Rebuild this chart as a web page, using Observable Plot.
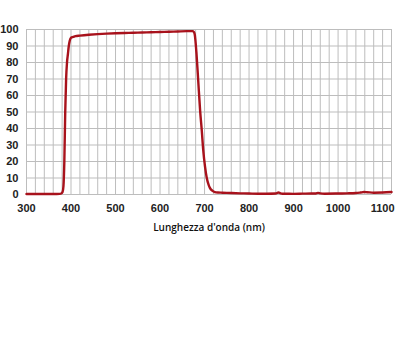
<!DOCTYPE html>
<html>
<head>
<meta charset="utf-8">
<script src="https://cdn.jsdelivr.net/npm/d3@7"></script>
<script src="https://cdn.jsdelivr.net/npm/@observablehq/plot@0.6"></script>
<style>
  html, body { margin: 0; padding: 0; background: #fff; }
  #chart svg { display: block; }
  g[aria-label="x-axis label"] text { font-family: "Open Sans", sans-serif; font-weight: 600; font-size: 10px; fill: #111; }
</style>
</head>
<body>
<div id="chart"></div>
<script>
const wavelength = [300, 320, 340, 360, 375, 378, 381, 383, 385, 387, 389, 391, 393, 395, 397, 400, 405, 410, 420, 440, 460, 480, 500, 520, 540, 560, 580, 600, 620, 640, 660, 668, 673, 676, 678, 682, 686, 690, 694, 697, 701, 705, 709, 712, 718, 723, 730, 740, 760, 780, 800, 820, 840, 860, 866, 870, 875, 880, 900, 920, 940, 950, 955, 960, 970, 1000, 1020, 1040, 1050, 1058, 1065, 1080, 1100, 1120];
const transmission = [0.3, 0.3, 0.3, 0.3, 0.4, 0.6, 1.5, 5, 20, 50, 70, 80, 85, 90, 93, 95, 95.5, 96, 96.3, 96.8, 97.2, 97.5, 97.7, 97.9, 98, 98.2, 98.3, 98.5, 98.6, 98.8, 99, 99, 99, 98.5, 97, 85, 68, 51, 38, 27, 17, 10, 6, 4, 2.2, 1.5, 1.2, 1.1, 0.9, 0.7, 0.6, 0.5, 0.5, 0.6, 1.2, 0.8, 0.5, 0.5, 0.4, 0.5, 0.6, 0.6, 1.0, 0.7, 0.5, 0.6, 0.7, 0.9, 1.2, 1.5, 1.4, 1.1, 1.2, 1.5];
const xTicks = [300, 400, 500, 600, 700, 800, 900, 1000, 1100];
const yTicks = [0, 10, 20, 30, 40, 50, 60, 70, 80, 90, 100];
const xGrid = d3.range(300, 1121, 20);
const xLabel = "Lunghezza d'onda (nm)";

const data = wavelength.map((w, i) => ({w, t: transmission[i]}));

const chart = Plot.plot({
  width: 397,
  height: 240,
  marginLeft: 26,
  marginRight: 6,
  marginTop: 29,
  marginBottom: 46,
  style: {fontFamily: "'Liberation Sans', Arial, sans-serif", fontSize: "11px", fontWeight: "bold", color: "#222", background: "#fff"},
  x: {domain: [300, 1120]},
  y: {domain: [0, 100]},
  marks: [
    Plot.gridX(xGrid, {stroke: "#bdbdbd", strokeOpacity: 1}),
    Plot.gridY(yTicks, {stroke: "#bdbdbd", strokeOpacity: 1}),
    Plot.axisX(xTicks, {tickSize: 0, tickPadding: 10, tickFormat: d => String(d), label: xLabel, labelAnchor: "center", labelArrow: "none", labelOffset: 36}),
    Plot.axisY(yTicks, {tickSize: 0, tickPadding: 8, tickFormat: d => String(d), label: null}),
    Plot.line(data, {x: "w", y: "t", stroke: "#a8121c", strokeWidth: 2.4, curve: "monotone-x"})
  ]
});
document.getElementById("chart").appendChild(chart);
</script>
</body>
</html>
